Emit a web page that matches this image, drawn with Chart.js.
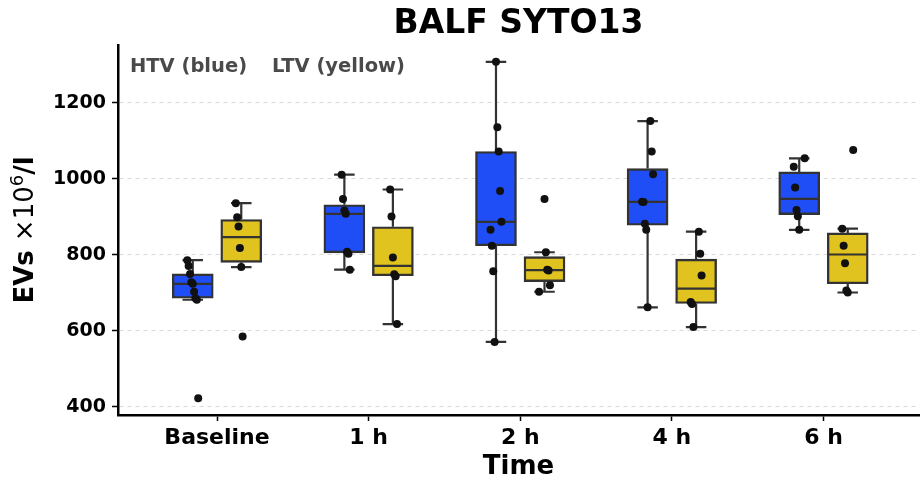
<!DOCTYPE html>
<html>
<head>
<meta charset="utf-8">
<script src="https://cdn.jsdelivr.net/npm/chart.js@4.4.1/dist/chart.umd.min.js"></script>
<style>
  html, body { margin: 0; padding: 0; background: #fff; }
  #wrap { width: 923px; height: 483px; }
</style>
</head>
<body>
<div id="wrap"><canvas id="chart"></canvas></div>
<script>
const timepoints = ['Baseline', '1 h', '2 h', '4 h', '6 h'];
const yTicks = [400, 600, 800, 1000, 1200];

// EV counts (x10^6/l) per animal, one list per time point
const htvValues = [
  [786, 771, 750, 728, 724, 703, 686, 682, 423],
  [1011, 947, 917, 908, 808, 803, 761],
  [1308, 1136, 1072, 968, 887, 866, 824, 757, 571],
  [1152, 1072, 1012, 940, 939, 882, 866, 662],
  [1054, 1032, 977, 918, 902, 866]
];
const ltvValues = [
  [936, 899, 875, 818, 768, 585],
  [972, 901, 793, 749, 744, 618],
  [947, 807, 761, 759, 720, 703],
  [861, 803, 746, 676, 671, 610],
  [1076, 869, 824, 778, 706, 701]
];

const FONT = "'DejaVu Sans', sans-serif";
const EDGE = '#333333';
const BOX_W = 41;
const DODGE = 0.16;

function quantile(sorted, p) {
  const pos = (sorted.length - 1) * p;
  const lo = Math.floor(pos), hi = Math.ceil(pos);
  return sorted[lo] + (sorted[hi] - sorted[lo]) * (pos - lo);
}

function boxStats(values) {
  const s = [...values].sort((a, b) => a - b);
  const q1 = quantile(s, 0.25), med = quantile(s, 0.5), q3 = quantile(s, 0.75);
  const iqr = q3 - q1;
  const lo = s.find(v => v >= q1 - 1.5 * iqr);
  const hi = [...s].reverse().find(v => v <= q3 + 1.5 * iqr);
  return { q1, med, q3, lo, hi };
}

// small fixed horizontal spread so overlapping dots stay visible
function jitter(i, j) {
  return (((j * 37 + i * 11) % 9) - 4) * 0.009;
}

const groups = [
  { name: 'HTV', values: htvValues, color: '#1f4ef6', offset: -DODGE },
  { name: 'LTV', values: ltvValues, color: '#e0c31e', offset: DODGE }
];
groups.forEach(g => { g.stats = g.values.map(boxStats); });

const allValues = htvValues.concat(ltvValues).flat();
const dMin = Math.min(...allValues), dMax = Math.max(...allValues);
const margin = (dMax - dMin) * 0.05;

const boxDatasets = groups.map(g => ({
  type: 'bar',
  label: g.name,
  group: g,
  data: g.stats.map((st, i) => ({ x: i + g.offset, y: [st.q1, st.q3] })),
  backgroundColor: g.color,
  borderColor: EDGE,
  borderWidth: 2.4,
  borderSkipped: false,
  barThickness: BOX_W,
  grouped: false,
  order: 2
}));

const pointDatasets = groups.map(g => ({
  type: 'scatter',
  label: g.name + ' points',
  data: g.values.flatMap((arr, i) => arr.map((v, j) => ({ x: i + g.offset + jitter(i, j), y: v }))),
  backgroundColor: '#111',
  borderWidth: 0,
  pointRadius: 4,
  order: 1
}));

const boxParts = {
  id: 'boxParts',
  beforeDatasetsDraw(chart) {
    const { ctx, scales: { x, y } } = chart;
    ctx.save();
    ctx.strokeStyle = EDGE;
    ctx.lineWidth = 2.2;
    groups.forEach(g => g.stats.forEach((st, i) => {
      const px = x.getPixelForValue(i + g.offset);
      const cap = BOX_W / 4;
      ctx.beginPath();
      ctx.moveTo(px, y.getPixelForValue(st.hi));
      ctx.lineTo(px, y.getPixelForValue(st.q3));
      ctx.moveTo(px, y.getPixelForValue(st.q1));
      ctx.lineTo(px, y.getPixelForValue(st.lo));
      ctx.moveTo(px - cap, y.getPixelForValue(st.hi));
      ctx.lineTo(px + cap, y.getPixelForValue(st.hi));
      ctx.moveTo(px - cap, y.getPixelForValue(st.lo));
      ctx.lineTo(px + cap, y.getPixelForValue(st.lo));
      ctx.stroke();
    }));
    ctx.restore();
  },
  afterDatasetDraw(chart, args) {
    const ds = chart.data.datasets[args.index];
    if (!ds.group) return;
    const { ctx, scales: { x, y } } = chart;
    ctx.save();
    ctx.strokeStyle = EDGE;
    ctx.lineWidth = 2.2;
    ds.group.stats.forEach((st, i) => {
      const px = x.getPixelForValue(i + ds.group.offset);
      const py = y.getPixelForValue(st.med);
      ctx.beginPath();
      ctx.moveTo(px - BOX_W / 2 + 1, py);
      ctx.lineTo(px + BOX_W / 2 - 1, py);
      ctx.stroke();
    });
    ctx.restore();
  }
};

const labels = {
  id: 'labels',
  afterDraw(chart) {
    const { ctx, chartArea } = chart;
    ctx.save();
    // title
    ctx.fillStyle = '#000';
    ctx.font = 'bold 33px ' + FONT;
    ctx.textAlign = 'center';
    ctx.textBaseline = 'alphabetic';
    ctx.fillText('BALF SYTO13', (chartArea.left + chartArea.right) / 2, 33);

    // group key inside the plot
    ctx.textAlign = 'left';
    ctx.fillStyle = '#4a4a4a';
    ctx.font = 'bold 19.5px ' + FONT;
    const kx = chartArea.left + 12, ky = chartArea.top + 27;
    ctx.fillText('HTV (blue)', kx, ky);
    ctx.fillText('LTV (yellow)', kx + ctx.measureText('HTV (blue)').width + 25, ky);

    // y axis title with superscript
    const parts = [
      { t: 'EVs ', f: 'bold 26px ' + FONT, dy: 0 },
      { t: '\u00d710', f: '26px ' + FONT, dy: 0 },
      { t: '6', f: '18px ' + FONT, dy: -10 },
      { t: '/l', f: 'bold 26px ' + FONT, dy: 0 }
    ];
    let total = 0;
    parts.forEach(p => { ctx.font = p.f; p.w = ctx.measureText(p.t).width; total += p.w; });
    ctx.translate(33, (chartArea.top + chartArea.bottom) / 2);
    ctx.rotate(-Math.PI / 2);
    ctx.fillStyle = '#000';
    let cx = -total / 2;
    parts.forEach(p => {
      ctx.font = p.f;
      ctx.fillText(p.t, cx, p.dy);
      cx += p.w;
    });
    ctx.restore();
  }
};

new Chart(document.getElementById('chart'), {
  type: 'bar',
  data: { datasets: [...boxDatasets, ...pointDatasets] },
  options: {
    responsive: true,
    maintainAspectRatio: false,
    animation: false,
    layout: { padding: { top: 45, right: 0, left: 0, bottom: 0 } },
    plugins: { legend: { display: false }, tooltip: { enabled: false }, title: { display: false } },
    scales: {
      x: {
        type: 'linear',
        offset: false,
        min: -0.653,
        max: 4.63,
        afterBuildTicks: s => { s.ticks = timepoints.map((_, i) => ({ value: i })); },
        afterFit: s => { s.height = 68; },
        ticks: {
          autoSkip: false, maxRotation: 0, padding: 4,
          color: '#000', font: { family: FONT, size: 22, weight: 'bold' },
          callback: v => timepoints[v]
        },
        grid: { offset: false, drawOnChartArea: false, tickLength: 6, tickColor: '#000', tickWidth: 1.5 },
        border: { color: '#000', width: 2.5 },
        title: { display: true, text: 'Time', color: '#000', font: { family: FONT, size: 26, weight: 'bold' }, padding: { top: 0, bottom: 0 } }
      },
      y: {
        min: dMin - margin,
        max: dMax + margin,
        afterBuildTicks: s => { s.ticks = yTicks.map(v => ({ value: v })); },
        afterFit: s => { s.width = 118; },
        ticks: {
          padding: 6, color: '#000', font: { family: FONT, size: 19, weight: 'bold' },
          callback: v => String(v)
        },
        grid: { color: '#d8d8d8', lineWidth: 1, tickLength: 6, tickColor: '#000', tickWidth: 1.5, tickBorderDash: [] },
        border: { color: '#000', width: 2.5, dash: [4, 4] }
      }
    }
  },
  plugins: [boxParts, labels]
});
</script>
</body>
</html>
